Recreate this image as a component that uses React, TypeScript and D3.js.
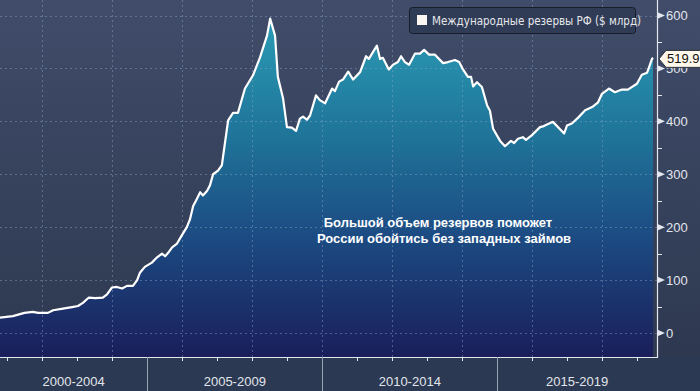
import * as d3 from "d3";

// reserves, $bn (decimal years)
const dates = [
  2000.79, 2001.16, 2001.49, 2001.73, 2001.88, 2002.16, 2002.31, 2002.59, 2002.85, 2003.02,
  2003.16, 2003.33, 2003.51, 2003.73, 2003.85, 2003.99, 2004.13, 2004.28, 2004.42, 2004.59,
  2004.71, 2004.79, 2004.93, 2005.13, 2005.28, 2005.42, 2005.51, 2005.59, 2005.71, 2005.85,
  2005.99, 2006.13, 2006.22, 2006.31, 2006.39, 2006.51, 2006.59, 2006.71, 2006.79, 2006.88,
  2007.02, 2007.13, 2007.31, 2007.45, 2007.59, 2007.79, 2008.02, 2008.22, 2008.42, 2008.51,
  2008.65, 2008.73, 2008.88, 2008.99, 2009.13, 2009.25, 2009.36, 2009.45, 2009.56, 2009.65,
  2009.82, 2009.93, 2010.08, 2010.28, 2010.36, 2010.48, 2010.59, 2010.74, 2010.88, 2011.08,
  2011.25, 2011.33, 2011.56, 2011.65, 2011.73, 2011.90, 2012.02, 2012.16, 2012.25, 2012.36,
  2012.48, 2012.65, 2012.79, 2012.91, 2013.05, 2013.22, 2013.45, 2013.59, 2013.79, 2013.91,
  2014.02, 2014.16, 2014.25, 2014.31, 2014.42, 2014.56, 2014.71, 2014.79, 2014.88, 2015.08,
  2015.22, 2015.39, 2015.48, 2015.59, 2015.73, 2015.82, 2015.99, 2016.22, 2016.33, 2016.42,
  2016.59, 2016.91, 2016.99, 2017.13, 2017.31, 2017.51, 2017.71, 2017.88, 2017.99, 2018.19,
  2018.36, 2018.56, 2018.73, 2018.99, 2019.13, 2019.28, 2019.33, 2019.42, 2019.45,
];
const reserves = [
  29, 32, 38, 40, 38, 38, 43, 46, 49, 51,
  57, 67, 66, 67, 73, 86, 87, 84, 89, 89,
  100, 114, 125, 133, 143, 150, 145, 151, 162, 169,
  185, 200, 215, 240, 250, 266, 260, 269, 279, 300,
  307, 317, 402, 416, 416, 462, 487, 521, 562, 594,
  562, 484, 443, 389, 388, 382, 405, 409, 403, 411,
  449, 440, 434, 462, 457, 475, 479, 494, 479, 493,
  523, 518, 543, 518, 520, 498, 507, 512, 523, 512,
  507, 528, 528, 535, 526, 526, 510, 512, 516, 512,
  498, 484, 484, 466, 474, 465, 430, 420, 386, 363,
  353, 363, 359, 367, 370, 365, 374, 389, 391, 394,
  399, 377, 392, 396, 407, 421, 427, 436, 452, 462,
  455, 460, 460, 471, 488, 492, 501, 518, 519.9,
];
const yTicks = [0, 100, 200, 300, 400, 500, 600];
const yMinor = [50, 150, 250, 350, 450, 550];
const years = d3.range(2001, 2020);
const gridYears = [2002, 2004, 2006, 2008, 2010, 2012, 2014, 2016, 2018];
const periods = [
  { label: "2000-2004", start: 2000, end: 2005 },
  { label: "2005-2009", start: 2005, end: 2010 },
  { label: "2010-2014", start: 2010, end: 2015 },
  { label: "2015-2019", start: 2015, end: 2020 },
];
const legendLabel = "Международные резервы РФ ($ млрд)";
const noteLines = ["Большой объем резервов поможет", "России обойтись без западных займов"];

export default function App() {
  const width = 700;
  const height = 391;
  const plotRight = 657;
  const plotBottom = 357;
  const font = "'Liberation Sans', Arial, sans-serif";

  const x = d3.scaleLinear([2005, 2010], [147.3, 322.3]);
  const y = d3.scaleLinear([0, 600], [333, 15.5]);
  const data = dates.map((d, i) => [d, reserves[i]] as [number, number]);

  const area = d3.area<[number, number]>()
    .x((d) => x(d[0]))
    .y0(plotBottom)
    .y1((d) => y(d[1]));
  const line = d3.line<[number, number]>()
    .x((d) => x(d[0]))
    .y((d) => y(d[1]));

  const last = data[data.length - 1];
  const ly = y(last[1]);

  return (
    <svg width={width} height={height} style={{ position: "absolute", left: 0, top: 0 }}>
      <defs>
        <linearGradient id="bg" x1="0" y1="0" x2="0" y2={height} gradientUnits="userSpaceOnUse">
          <stop offset="0" stopColor="#404c69" />
          <stop offset="1" stopColor="#2c374e" />
        </linearGradient>
        <linearGradient id="fillArea" x1="0" y1="20" x2="0" y2={plotBottom} gradientUnits="userSpaceOnUse">
          <stop offset="0" stopColor="#2a9bb4" />
          <stop offset="0.35" stopColor="#1f7399" />
          <stop offset="0.65" stopColor="#1c4a82" />
          <stop offset="1" stopColor="#1a1e5a" />
        </linearGradient>
      </defs>
      <rect width={width} height={height} fill="url(#bg)" />
      <rect x={0} y={plotBottom} width={width} height={height - plotBottom} fill="#2c3952" />

      <path d={area(data) ?? ""} fill="url(#fillArea)" />

      {/* grid */}
      <g stroke="#8fa6c8" strokeOpacity={0.45} strokeDasharray="2,3" strokeWidth={1}>
        {yTicks.map((t) => (
          <line key={t} x1={0} x2={plotRight} y1={Math.round(y(t)) + 0.5} y2={Math.round(y(t)) + 0.5} />
        ))}
        {gridYears.map((yr) => (
          <line key={yr} x1={Math.round(x(yr)) + 0.5} x2={Math.round(x(yr)) + 0.5} y1={0} y2={plotBottom} />
        ))}
      </g>

      <path d={line(data) ?? ""} fill="none" stroke="#ffffff" strokeWidth={2.2} strokeLinejoin="round" />

      {/* axes */}
      <line x1={0} x2={plotRight + 1} y1={plotBottom + 0.5} y2={plotBottom + 0.5} stroke="#e4e8ee" strokeWidth={1.2} />
      <line x1={plotRight + 0.5} x2={plotRight + 0.5} y1={0} y2={plotBottom + 1} stroke="#e4e8ee" strokeWidth={1.2} />
      {years.map((yr) => (
        <line key={yr} x1={Math.round(x(yr)) + 0.5} x2={Math.round(x(yr)) + 0.5} y1={plotBottom} y2={plotBottom + 4}
          stroke="#e4e8ee" />
      ))}
      {periods.slice(1).map((p) => (
        <line key={p.label} x1={Math.round(x(p.start)) + 0.5} x2={Math.round(x(p.start)) + 0.5}
          y1={plotBottom} y2={height} stroke="#9aa3b4" />
      ))}
      {periods.map((p) => {
        const a = Math.max(0, x(p.start));
        const b = Math.min(plotRight, x(p.end));
        return (
          <text key={p.label} x={(a + b) / 2} y={386} textAnchor="middle" fill="#e2e6ec"
            fontSize={13} fontFamily={font}>{p.label}</text>
        );
      })}

      {yMinor.map((t) => (
        <line key={t} x1={plotRight} x2={plotRight + 5} y1={Math.round(y(t)) + 0.5} y2={Math.round(y(t)) + 0.5}
          stroke="#e4e8ee" />
      ))}
      {yTicks.map((t) => (
        <g key={t} transform={`translate(${plotRight},${y(t)})`}>
          <path d="M0,-3.5L8,0L0,3.5Z" fill="#e4e8ee" />
          <text x={9} y={4.5} fill="#e2e6ec" fontSize={13} fontFamily={font}>{t}</text>
        </g>
      ))}

      {/* last value */}
      <g transform={`translate(659,${ly + 1})`}>
        <path d="M0,0L7,-8.5H42V8.5H7Z" fill="#fff7ea" stroke="#2a2f3c" strokeWidth={1} />
        <text x={8} y={4.5} fill="#111" fontSize={13} fontFamily={font}>{last[1].toFixed(1)}</text>
      </g>

      {/* legend */}
      <rect x={409.5} y={7.5} width={226} height={26} rx={3} fill="#303b55" stroke="#161c2a" />
      <rect x={417} y={15} width={10} height={10} fill="#fdf7f2" />
      <text x={432} y={24.5} fill="#e6e8ec" fontSize={11.5} fontFamily="'DejaVu Sans Condensed', 'DejaVu Sans', sans-serif">
        {legendLabel}
      </text>

      {/* note */}
      <g fill="#ffffff" fontSize={13} fontWeight="bold" fontFamily={font} textAnchor="middle">
        {noteLines.map((l, i) => (
          <text key={i} x={i === 0 ? 438 : 444} y={227 + i * 16}>{l}</text>
        ))}
      </g>
    </svg>
  );
}
